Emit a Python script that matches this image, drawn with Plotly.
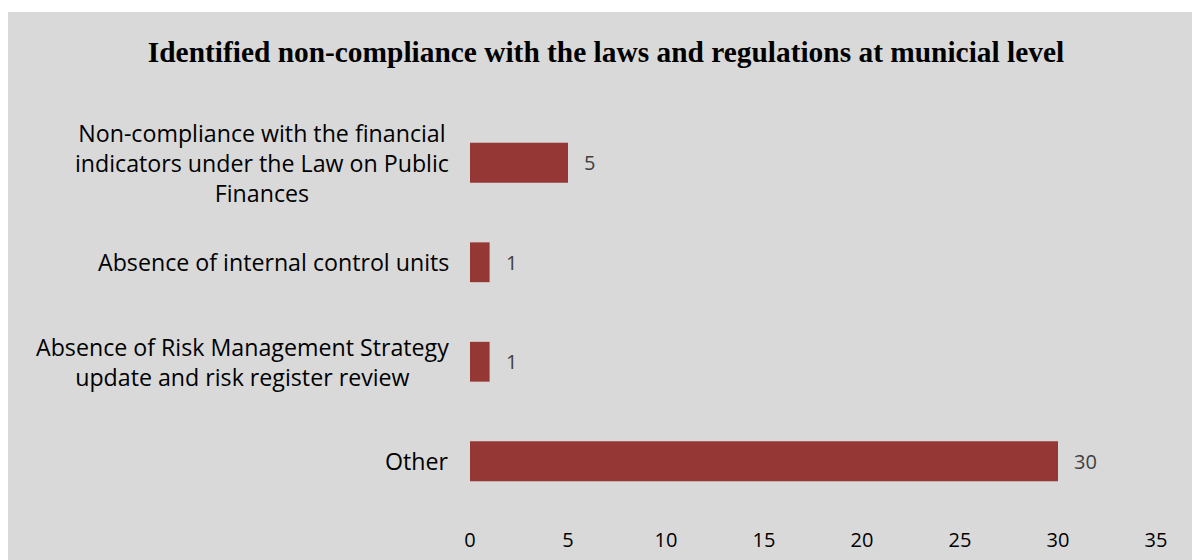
import plotly.graph_objects as go

# Chart content
title_text = "Identified non-compliance with the laws and regulations at municial level"
categories = [
    "Non-compliance with the financial<br>indicators under the Law on Public<br>Finances",
    "Absence of internal control units",
    "Absence of Risk Management Strategy<br>update and risk register review",
    "Other",
]
values = [5, 1, 1, 30]
x_ticks = [0, 5, 10, 15, 20, 25, 30, 35]

BAR_COLOR = "#953735"
BG_GRAY = "#d9d9d9"
LABEL_FONT = "Open Sans"

W, H = 1192, 560
L, R, T, B = 470, 36, 113, 49
plot_w = W - L - R
plot_h = H - T - B

fig = go.Figure()

fig.add_trace(go.Bar(
    y=categories,
    x=values,
    orientation="h",
    marker=dict(color=BAR_COLOR, line=dict(width=0)),
    width=0.4,
    hoverinfo="skip",
))

annotations = []
# Category labels: centred multi-line text, right edge just left of the axis
for cat in categories:
    annotations.append(dict(
        x=0, y=cat, xref="x", yref="y",
        text=cat, showarrow=False,
        xanchor="right", yanchor="middle",
        xshift=-19, align="center",
        font=dict(family=LABEL_FONT, size=23.2, color="#000000"),
    ))
# Value labels next to each bar end
for cat, v in zip(categories, values):
    annotations.append(dict(
        x=v, y=cat, xref="x", yref="y",
        text=str(v), showarrow=False,
        xanchor="left", yanchor="middle",
        xshift=14,
        font=dict(family=LABEL_FONT, size=20, color="#404040"),
    ))

fig.update_layout(
    width=W, height=H,
    margin=dict(l=L, r=R, t=T, b=B, pad=0, autoexpand=False),
    paper_bgcolor="white",
    plot_bgcolor="rgba(0,0,0,0)",
    showlegend=False,
    title=dict(
        text="<b>" + title_text + "</b>",
        x=(606) / W, xanchor="center", xref="container",
        y=1 - 52 / H, yanchor="middle", yref="container",
        font=dict(family="Liberation Serif", size=29.4, color="#000000"),
    ),
    xaxis=dict(
        range=[0, 35],
        tickvals=x_ticks,
        ticktext=[str(t) for t in x_ticks],
        showgrid=False, zeroline=False, showline=False,
        ticks="",
        automargin=False,
        ticklabelstandoff=15,
        tickfont=dict(family=LABEL_FONT, size=20, color="#000000"),
        fixedrange=True,
    ),
    yaxis=dict(
        autorange="reversed",
        range=[3.5, -0.5],
        showticklabels=False,
        showgrid=False, zeroline=False, showline=False,
        ticks="",
        automargin=False,
        fixedrange=True,
    ),
    annotations=annotations,
    shapes=[dict(
        type="rect", xref="paper", yref="paper", layer="below",
        x0=(8 - L) / plot_w, x1=(W - L) / plot_w,
        y0=(T + plot_h - H) / plot_h, y1=(T + plot_h - 12) / plot_h,
        fillcolor=BG_GRAY, line=dict(width=0),
    )],
)

fig.write_html("out.html")
